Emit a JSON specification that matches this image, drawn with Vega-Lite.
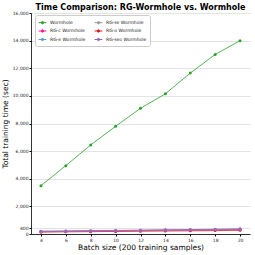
{
  "$schema": "https://vega.github.io/schema/vega-lite/v6.json",
  "width": 219,
  "height": 221,
  "autosize": {"type": "none"},
  "padding": {"left": 31, "top": 13, "right": 5, "bottom": 21},
  "background": "white",
  "title": {"text": "Time Comparison: RG-Wormhole vs. Wormhole", "font": "DejaVu Sans", "fontSize": 8, "fontWeight": "bold", "color": "#000", "offset": -1.5, "anchor": "middle"},
  "config": {"view": {"stroke": null}, "font": "DejaVu Sans"},
  "data": {"values": [
    {"b": 4, "s": "Wormhole", "t": 3500}, {"b": 6, "s": "Wormhole", "t": 4950}, {"b": 8, "s": "Wormhole", "t": 6450}, {"b": 10, "s": "Wormhole", "t": 7800}, {"b": 12, "s": "Wormhole", "t": 9100}, {"b": 14, "s": "Wormhole", "t": 10150}, {"b": 16, "s": "Wormhole", "t": 11650}, {"b": 18, "s": "Wormhole", "t": 13000}, {"b": 20, "s": "Wormhole", "t": 14000},
    {"b": 4, "s": "RG-e Wormhole", "t": 180}, {"b": 6, "s": "RG-e Wormhole", "t": 195}, {"b": 8, "s": "RG-e Wormhole", "t": 215}, {"b": 10, "s": "RG-e Wormhole", "t": 235}, {"b": 12, "s": "RG-e Wormhole", "t": 255}, {"b": 14, "s": "RG-e Wormhole", "t": 275}, {"b": 16, "s": "RG-e Wormhole", "t": 295}, {"b": 18, "s": "RG-e Wormhole", "t": 315}, {"b": 20, "s": "RG-e Wormhole", "t": 340},
    {"b": 4, "s": "RG-o Wormhole", "t": 140}, {"b": 6, "s": "RG-o Wormhole", "t": 155}, {"b": 8, "s": "RG-o Wormhole", "t": 170}, {"b": 10, "s": "RG-o Wormhole", "t": 185}, {"b": 12, "s": "RG-o Wormhole", "t": 200}, {"b": 14, "s": "RG-o Wormhole", "t": 215}, {"b": 16, "s": "RG-o Wormhole", "t": 230}, {"b": 18, "s": "RG-o Wormhole", "t": 245}, {"b": 20, "s": "RG-o Wormhole", "t": 265},
    {"b": 4, "s": "RG-c Wormhole", "t": 170}, {"b": 6, "s": "RG-c Wormhole", "t": 185}, {"b": 8, "s": "RG-c Wormhole", "t": 205}, {"b": 10, "s": "RG-c Wormhole", "t": 225}, {"b": 12, "s": "RG-c Wormhole", "t": 245}, {"b": 14, "s": "RG-c Wormhole", "t": 265}, {"b": 16, "s": "RG-c Wormhole", "t": 285}, {"b": 18, "s": "RG-c Wormhole", "t": 305}, {"b": 20, "s": "RG-c Wormhole", "t": 330},
    {"b": 4, "s": "RG-se Wormhole", "t": 190}, {"b": 6, "s": "RG-se Wormhole", "t": 205}, {"b": 8, "s": "RG-se Wormhole", "t": 225}, {"b": 10, "s": "RG-se Wormhole", "t": 245}, {"b": 12, "s": "RG-se Wormhole", "t": 265}, {"b": 14, "s": "RG-se Wormhole", "t": 285}, {"b": 16, "s": "RG-se Wormhole", "t": 305}, {"b": 18, "s": "RG-se Wormhole", "t": 330}, {"b": 20, "s": "RG-se Wormhole", "t": 355},
    {"b": 4, "s": "RG-seo Wormhole", "t": 200}, {"b": 6, "s": "RG-seo Wormhole", "t": 220}, {"b": 8, "s": "RG-seo Wormhole", "t": 240}, {"b": 10, "s": "RG-seo Wormhole", "t": 260}, {"b": 12, "s": "RG-seo Wormhole", "t": 280}, {"b": 14, "s": "RG-seo Wormhole", "t": 300}, {"b": 16, "s": "RG-seo Wormhole", "t": 320}, {"b": 18, "s": "RG-seo Wormhole", "t": 345}, {"b": 20, "s": "RG-seo Wormhole", "t": 375}
  ]},
  "encoding": {
    "x": {"field": "b", "type": "quantitative", "scale": {"domain": [3.2, 20.8], "nice": false, "zero": false},
      "axis": {"values": [4, 6, 8, 10, 12, 14, 16, 18, 20], "format": "d", "title": "Batch size (200 training samples)", "titleFontSize": 7.5, "titleFontWeight": "normal", "titleColor": "#000", "titlePadding": 2, "labelFontSize": 4.5, "labelColor": "#222", "tickSize": 2, "tickColor": "#000", "domainColor": "#000", "domainWidth": 0.8, "grid": false, "labelPadding": 1}},
    "y": {"field": "t", "type": "quantitative", "scale": {"domain": [0, 16000], "nice": false},
      "axis": {"values": [0, 400, 2000, 4000, 6000, 8000, 10000, 12000, 14000, 16000], "format": ",d", "title": "Total training time (sec)", "titleFontSize": 7.5, "titleFontWeight": "normal", "titleColor": "#000", "titlePadding": 3, "labelFontSize": 4.5, "labelColor": "#222", "tickSize": 2, "tickColor": "#000", "domainColor": "#000", "domainWidth": 0.8, "grid": true, "gridColor": "#dcdcdc", "gridWidth": 0.8, "labelPadding": 1, "labelFlush": false}},
    "color": {"field": "s", "type": "nominal",
      "scale": {"domain": ["Wormhole", "RG-c Wormhole", "RG-e Wormhole", "RG-se Wormhole", "RG-o Wormhole", "RG-seo Wormhole"],
        "range": ["#2ca02c", "#ff1493", "#5a9bd5", "#999999", "#e31a1c", "#9467bd"]},
      "legend": {"title": null, "orient": "none", "legendX": 4, "legendY": 2, "columns": 2, "columnPadding": 6, "rowPadding": 0.5, "labelFontSize": 4.5, "labelColor": "#222", "symbolSize": 60, "symbolType": "M-1,0H1M-0.3,0A0.3,0.3 0 1,0 0.3,0A0.3,0.3 0 1,0 -0.3,0Z", "symbolStrokeWidth": 1, "labelOffset": 3, "padding": 3, "strokeColor": "#cccccc", "fillColor": "white", "cornerRadius": 2, "labelLimit": 60}}
  },
  "layer": [
    {"mark": {"type": "line", "strokeWidth": 0.8}},
    {"mark": {"type": "point", "filled": true, "size": 9, "opacity": 1}}
  ]
}
